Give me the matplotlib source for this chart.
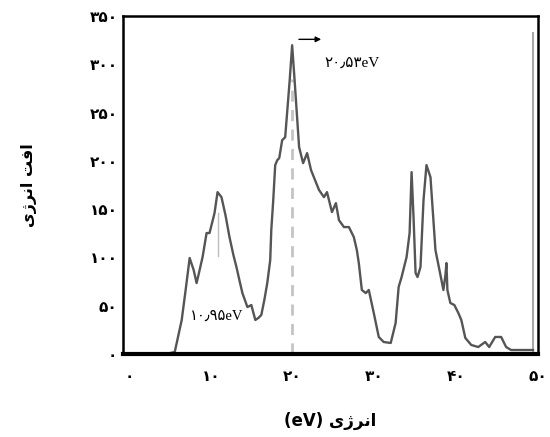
import matplotlib
matplotlib.use("Agg")
import matplotlib.pyplot as plt
import numpy as np

# energy (eV) and energy loss
energy = [4.62, 5.60, 6.45, 6.93, 7.42, 7.91, 8.27, 8.64, 9.00, 9.49, 9.85, 10.46,
          10.83, 11.31, 11.80, 12.29, 12.77, 13.14, 13.50, 13.87, 14.48, 14.96, 15.45,
          15.82, 16.18, 16.55, 16.91, 17.27, 17.40, 17.64, 17.88, 18.13, 18.37, 18.73,
          19.10, 19.65, 19.95, 20.25, 20.80, 21.29, 21.78, 22.26, 22.75, 23.24, 23.84,
          24.21, 24.82, 25.30, 25.67, 26.28, 26.89, 27.49, 27.86, 28.10, 28.47, 28.95,
          29.32, 29.93, 30.54, 31.14, 32.00, 32.60, 32.97, 33.33, 33.94, 34.31, 34.55,
          34.79, 35.04, 35.28, 35.64, 36.01, 36.37, 36.86, 37.47, 38.08, 38.44, 38.69,
          38.81, 38.93, 39.29, 39.78, 40.27, 40.63, 41.12, 41.85, 42.70, 43.55, 44.04,
          44.77, 45.50, 46.11, 46.72, 47.93, 49.39]
loss = [0, 2.1, 35.2, 66.3, 99.4, 87.0, 73.5, 87.0, 100.4, 125.3, 125.3, 146.0,
        167.7, 162.5, 143.9, 121.1, 102.5, 90.1, 76.6, 63.1, 48.6, 50.7, 35.2,
        37.3, 40.4, 55.9, 73.5, 97.3, 128.4, 159.4, 195.7, 200.8, 202.9, 221.5,
        224.6, 283.6, 319.9, 283.6, 214.3, 197.7, 208.1, 190.5, 180.1, 169.8, 162.5,
        167.7, 147.0, 156.3, 138.7, 131.5, 131.5, 121.1, 107.6, 94.2, 66.3, 63.1,
        66.3, 42.4, 17.6, 12.4, 11.4, 32.1, 69.4, 79.7, 100.4, 125.3, 188.4,
        141.8, 83.9, 79.7, 90.1, 159.4, 195.7, 183.2, 107.6, 81.8, 66.3, 81.8,
        94.2, 66.3, 52.8, 50.7, 42.4, 35.2, 16.6, 9.3, 7.2, 12.4, 7.2,
        17.6, 17.6, 7.2, 4.1, 4.1, 4.1]

peak_main = 19.95
peak_main_top = 285
peak_small = 10.83
peak_small_range = [102, 146]
frame_x = 49.4
frame_top = 333

xticks = [0, 10, 20, 30, 40, 50]
yticks = [0, 50, 100, 150, 200, 250, 300, 350]

FA = str.maketrans("0123456789", "۰۱۲۳۴۵۶۷۸۹")
def fa(n):
    return str(n).translate(FA)

ylabel_txt = "\u06CC\u0698\uFEAE\uFEE7\u0627 \uFE96\uFED3\u0627"
xlabel_txt = "(eV) \u06CC\u0698\uFEAE\uFEE7\u0627"
label_main = "۲۰\u066B۵۳eV"
label_small = "۱۰\u066B۹۵eV"

plt.rcParams['font.family'] = ['DejaVu Sans']

fig = plt.figure(figsize=(5.5, 4.37), dpi=100)
ax = fig.add_axes([0.2236, 0.190, 0.7545, 0.773])

ax.plot([peak_main, peak_main], [0, peak_main_top], color='#c4c4c4', lw=2,
        ls=(0, (4, 3)), zorder=1)
ax.plot([peak_small, peak_small], peak_small_range, color='#bdbdbd', lw=1, zorder=1)
ax.plot([frame_x, frame_x], [0, frame_top], color='#a8a8a8', lw=1.5, zorder=1)
ax.plot(energy, loss, color='#555555', lw=1.7, zorder=2)

ax.annotate("", xy=(23.84, 326), xytext=(20.44, 326),
            arrowprops=dict(arrowstyle='-|>', color='black', lw=1,
                            mutation_scale=8))
ax.text(27.25, 301, label_main, ha='center', va='center', fontsize=11,
        family=['Liberation Serif', 'DejaVu Sans'])
ax.text(10.7, 39, label_small, ha='center', va='center', fontsize=10.5,
        family=['Liberation Serif', 'DejaVu Sans'],
        bbox=dict(facecolor='white', edgecolor='none', pad=1.5), zorder=3)

ax.set_xlim(-0.73, 49.76)
ax.set_ylim(0, 350)
ax.set_xticks(xticks)
ax.set_xticklabels([fa(v) for v in xticks], fontsize=11, fontweight='bold')
ax.set_yticks(yticks)
ax.set_yticklabels([fa(v) for v in yticks], fontsize=11, fontweight='bold')
ax.tick_params(axis='x', length=0, pad=11)
ax.tick_params(axis='y', length=0, pad=4)

for s in ['top', 'right', 'left']:
    ax.spines[s].set_linewidth(1.8)
ax.spines['bottom'].set_linewidth(3)

ax.set_ylabel(ylabel_txt, fontsize=11.5, fontweight='bold', labelpad=38)
ax.set_xlabel(xlabel_txt, fontsize=12, fontweight='bold', labelpad=20)

fig.savefig("out.png", dpi=100)
